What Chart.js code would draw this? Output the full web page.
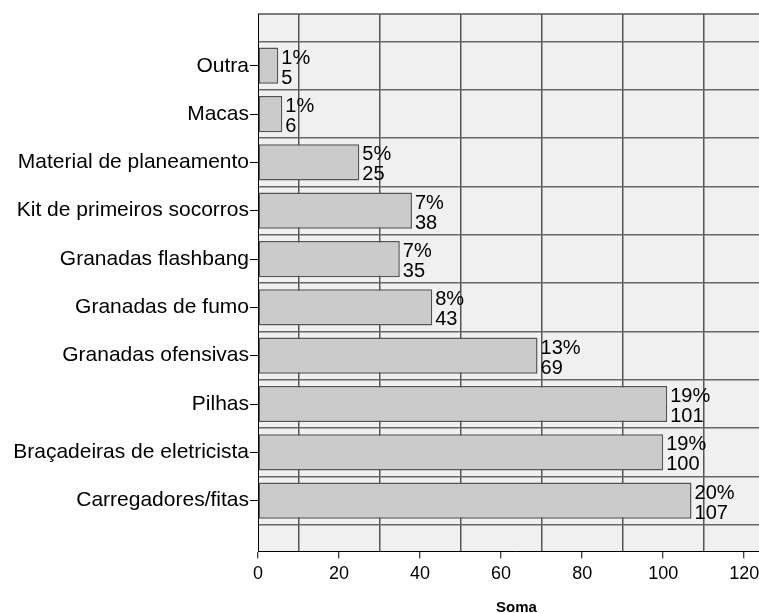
<!DOCTYPE html>
<html>
<head>
<meta charset="utf-8">
<script src="https://cdn.jsdelivr.net/npm/chart.js@4.4.1/dist/chart.umd.min.js"></script>
<style>
  html, body { margin: 0; padding: 0; background: #fff; overflow: hidden; }
  canvas { display: block; }
</style>
</head>
<body>
<canvas id="chart" width="775" height="615"></canvas>
<script>
const categories = ['Outra', 'Macas', 'Material de planeamento', 'Kit de primeiros socorros',
  'Granadas flashbang', 'Granadas de fumo', 'Granadas ofensivas', 'Pilhas',
  'Braçadeiras de eletricista', 'Carregadores/fitas'];
const values = [5, 6, 25, 38, 35, 43, 69, 101, 100, 107];
const percents = [1, 1, 5, 7, 7, 8, 13, 19, 19, 20];
const xTickStep = 10;   // grid every 10, labels every 20
const xMax = 127.6;

Chart.defaults.font.family = '"Liberation Sans", Arial, sans-serif';
Chart.defaults.color = '#000';

// grey plot background + top edge of the frame
const plotFrame = {
  id: 'plotFrame',
  beforeDraw(chart) {
    const { ctx, chartArea: a } = chart;
    ctx.save();
    ctx.fillStyle = '#f0f0f0';
    ctx.fillRect(a.left, a.top, a.right - a.left, a.bottom - a.top);
    ctx.strokeStyle = '#555';
    ctx.lineWidth = 1.5;
    ctx.beginPath();
    ctx.moveTo(a.left, a.top);
    ctx.lineTo(a.right, a.top);
    ctx.stroke();
    ctx.restore();
  }
};

// "NN%" over the count, right of each bar end
const barLabels = {
  id: 'barLabels',
  afterDatasetsDraw(chart) {
    const ctx = chart.ctx;
    const meta = chart.getDatasetMeta(0);
    ctx.save();
    ctx.font = '20px "Liberation Sans", Arial, sans-serif';
    ctx.fillStyle = '#000';
    ctx.textAlign = 'left';
    ctx.textBaseline = 'alphabetic';
    meta.data.forEach((bar, i) => {
      ctx.fillText(percents[i] + '%', bar.x + 3, bar.y - 2);
      ctx.fillText(String(values[i]), bar.x + 3, bar.y + 18);
    });
    ctx.restore();
  }
};

new Chart(document.getElementById('chart').getContext('2d'), {
  type: 'bar',
  data: {
    datasets: [{
      data: values.map((v, i) => ({ x: v, y: i })),
      xAxisID: 'x',
      yAxisID: 'y',
      backgroundColor: '#cbcbcb',
      borderColor: '#555',
      borderWidth: 1.5,
      borderSkipped: false,
      barPercentage: 0.75,
      categoryPercentage: 1
    }]
  },
  options: {
    indexAxis: 'y',
    responsive: false,
    animation: false,
    layout: { padding: { top: 14, left: 0, right: 0, bottom: 0 } },
    plugins: {
      legend: { display: false },
      tooltip: { enabled: false }
    },
    scales: {
      x: {
        type: 'linear',
        min: 0,
        max: xMax,
        offset: false,
        ticks: {
          stepSize: xTickStep,
          includeBounds: false,
          autoSkip: false,
          maxRotation: 0,
          padding: 5,
          font: { size: 18 },
          callback: v => (v % 20 === 0 ? v : '')
        },
        grid: {
          offset: false,
          color: c => (c.tick && c.tick.value % 20 === 10 ? '#555' : 'rgba(0,0,0,0)'),
          tickColor: c => (c.tick && c.tick.value % 20 === 0 ? '#000' : 'rgba(0,0,0,0)'),
          lineWidth: 1.5,
          tickWidth: 1,
          tickLength: 7
        },
        border: { color: '#000', width: 1 },
        title: {
          display: true,
          text: 'Soma',
          font: { size: 15, weight: 'bold', lineHeight: 1 },
          padding: { top: 10, bottom: 0 }
        }
      },
      y: {
        type: 'linear',
        reverse: true,
        min: -1.07,
        max: 10.05,
        offset: false,
        afterBuildTicks: s => { s.ticks = categories.map((c, i) => ({ value: i })); },
        afterFit: s => { s.width = 258; },
        ticks: {
          autoSkip: false,
          padding: 1,
          font: { size: 21 },
          callback: v => categories[v]
        },
        grid: { offset: false, drawOnChartArea: false, tickLength: 8, tickColor: '#000' },
        border: { color: '#000', width: 1 }
      },
      // band separators between categories
      yBands: {
        type: 'linear',
        position: 'right',
        reverse: true,
        min: -1.07,
        max: 10.05,
        offset: false,
        afterBuildTicks: s => {
          s.ticks = [{ value: -0.5 }].concat(categories.map((c, i) => ({ value: i + 0.5 })));
        },
        afterFit: s => { s.width = 0; },
        ticks: { display: false },
        grid: { offset: false, color: '#666', lineWidth: 1.5, drawTicks: false },
        border: { display: false }
      }
    }
  },
  plugins: [plotFrame, barLabels]
});
</script>
</body>
</html>
